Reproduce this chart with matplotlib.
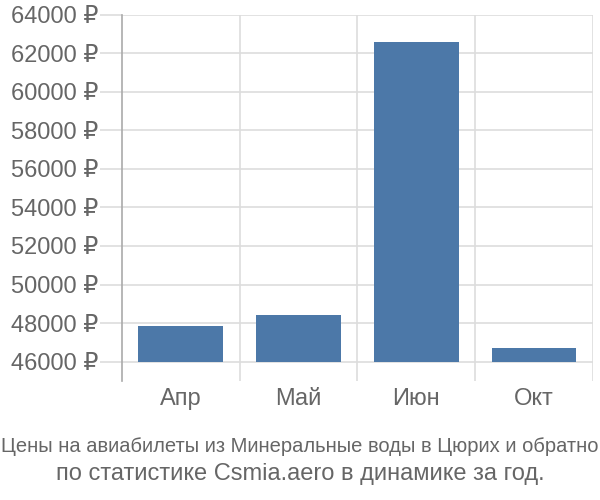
import numpy as np
import matplotlib.pyplot as plt

# Data
months = ['Апр', 'Май', 'Июн', 'Окт']
prices = [47850, 48420, 62560, 46710]
base = 46000
yticks = list(range(46000, 64001, 2000))

plt.rcParams['font.family'] = ['Liberation Sans', 'DejaVu Sans']
text_color = '#666666'
grid_color = '#dddddd'

fig = plt.figure(figsize=(6, 5), dpi=100)
ax = fig.add_axes([0.2033, 0.238, 0.785, 0.733])

x = np.arange(len(months))
heights = [p - base for p in prices]
ax.bar(x, heights, bottom=base, width=0.72, color='#4c78a8', zorder=3)

ax.set_xlim(-0.5, len(months) - 0.5)
ax.set_ylim(45000, 64000)

ax.set_yticks(yticks)
ax.set_yticklabels([f'{v} ₽' for v in yticks])
ax.set_xticks(x)
ax.set_xticklabels(months)

# horizontal grid lines at ticks
for v in yticks:
    ax.axhline(v, color=grid_color, lw=1.2, zorder=1)
# vertical grid lines between categories
for b in np.arange(0.5, len(months), 1.0):
    ax.axvline(b, color=grid_color, lw=1.2, zorder=1)

for s in ['top', 'right', 'bottom']:
    ax.spines[s].set_visible(False)
ax.spines['left'].set_color('#aaaaaa')
ax.spines['left'].set_linewidth(1.2)

ax.tick_params(axis='y', length=15.8, color=grid_color, width=1.2,
               labelsize=17, labelcolor=text_color, pad=1)
ax.tick_params(axis='x', length=0, labelsize=17, labelcolor=text_color, pad=5)

fig.text(0.5, 0.106, 'Цены на авиабилеты из Минеральные воды в Цюрих и обратно',
         ha='center', va='center', fontsize=14.5, color=text_color)
fig.text(0.5, 0.052, 'по статистике Csmia.aero в динамике за год.',
         ha='center', va='center', fontsize=17, color=text_color)

fig.savefig('out.png', dpi=100)
